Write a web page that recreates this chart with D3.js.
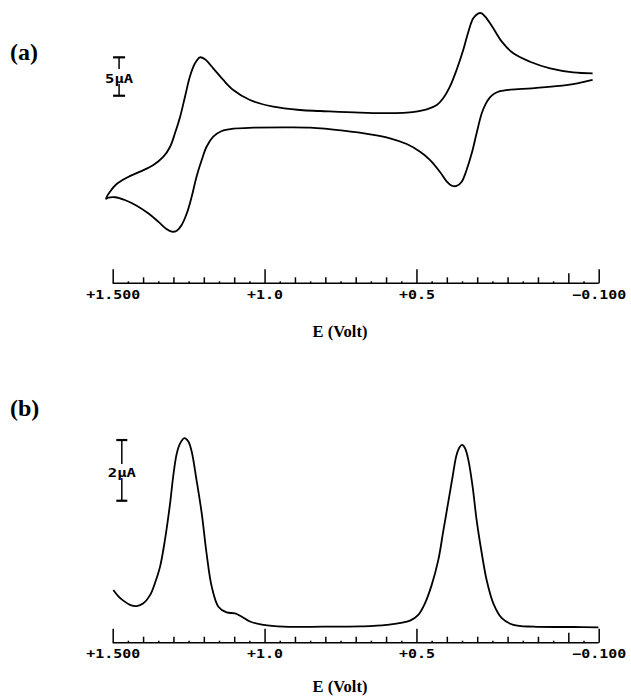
<!DOCTYPE html>
<html>
<head>
<meta charset="utf-8">
<script src="https://cdnjs.cloudflare.com/ajax/libs/d3/7.8.5/d3.min.js"></script>
<style>
  body { margin: 0; background: #fff; }
  svg { display: block; }
</style>
</head>
<body>
<svg width="631" height="696"></svg>
<script>
// (a) cyclic voltammogram: potential (V) and current (uA), in scan order
const cvE = [-0.080, -0.016, 0.060, 0.126, 0.181, 0.219, 0.247, 0.269, 0.285, 0.296, 0.313, 0.329, 0.346, 0.368, 0.390, 0.412, 0.433, 0.466, 0.532, 0.686, 0.817, 0.883, 0.971, 1.048, 1.103, 1.136, 1.169, 1.196, 1.213, 1.229, 1.246, 1.262, 1.278, 1.295, 1.311, 1.333, 1.366, 1.410, 1.454, 1.487, 1.509, 1.522,
  1.515, 1.492, 1.460, 1.421, 1.383, 1.350, 1.322, 1.306, 1.289, 1.273, 1.256, 1.240, 1.224, 1.207, 1.191, 1.169, 1.141, 1.103, 1.037, 0.916, 0.850, 0.741, 0.653, 0.587, 0.532, 0.488, 0.455, 0.423, 0.400, 0.384, 0.368, 0.351, 0.335, 0.318, 0.302, 0.285, 0.272, 0.258, 0.244, 0.225, 0.190, 0.120, 0.040, -0.030, -0.080];
const cvI = [6.08, 6.21, 6.73, 7.59, 8.68, 10.20, 11.94, 13.24, 13.89, 13.89, 13.24, 11.50, 9.11, 6.51, 4.34, 2.83, 1.95, 1.39, 0.95, 0.95, 1.17, 1.30, 1.73, 2.60, 3.91, 5.21, 6.73, 7.90, 8.16, 7.38, 5.64, 3.03, 0.43, -1.73, -3.48, -4.78, -5.86, -6.73, -7.51, -8.33, -9.34, -10.25,
  -10.12, -10.06, -10.42, -11.16, -12.15, -13.24, -14.23, -14.54, -14.41, -13.67, -12.15, -9.99, -7.38, -5.21, -3.48, -2.17, -1.43, -1.13, -1.00, -0.95, -1.00, -1.39, -1.86, -2.38, -3.13, -4.13, -5.21, -6.73, -8.03, -8.55, -8.59, -8.03, -6.51, -4.34, -1.73, 0.87, 2.10, 2.95, 3.42, 3.75, 3.95, 4.12, 4.40, 4.78, 5.21];

// (b) differential pulse voltammogram
const dpvE = [1.498, 1.482, 1.465, 1.443, 1.421, 1.399, 1.377, 1.361, 1.344, 1.328, 1.311, 1.301, 1.289, 1.278, 1.264, 1.251, 1.240, 1.224, 1.207, 1.191, 1.174, 1.152, 1.125, 1.097, 1.075, 1.048, 1.004, 0.938, 0.807, 0.686, 0.598, 0.521, 0.494, 0.472, 0.450, 0.428, 0.412, 0.395, 0.381, 0.368, 0.357, 0.349, 0.340, 0.329, 0.315, 0.302, 0.285, 0.269, 0.247, 0.219, 0.181, 0.115, -0.016, -0.099];
const dpvI = [1.22, 1.02, 0.87, 0.73, 0.69, 0.78, 1.05, 1.44, 1.99, 2.87, 4.08, 4.95, 5.72, 6.05, 6.22, 6.11, 5.78, 4.84, 3.75, 2.43, 1.33, 0.67, 0.48, 0.45, 0.34, 0.18, 0.07, 0.01, 0.01, 0.02, 0.07, 0.21, 0.40, 0.78, 1.38, 2.21, 3.14, 4.13, 4.95, 5.67, 5.94, 6.00, 5.89, 5.50, 4.62, 3.53, 2.43, 1.55, 0.78, 0.29, 0.07, 0.01, 0.00, -0.01];

// axis ticks and labels
const majorTicks = [1.5, 1.0, 0.5, -0.1];
const tickLabels = ["+1.500", "+1.0", "+0.5", "\u22120.100"];
const minorTicks = [1.4, 1.3, 1.2, 1.1, 0.9, 0.8, 0.7, 0.6, 0.4, 0.3, 0.2, 0.1];
const zeroTick = [0.0];
const halfTicks = [1.45, 1.35, 1.25, 1.15, 1.05, 0.95, 0.85, 0.75, 0.65, 0.55, 0.45, 0.35, 0.25, 0.15, 0.05, -0.05];

const svg = d3.select("svg");
svg.append("rect").attr("width", 631).attr("height", 696).attr("fill", "#fff");

const x = d3.scaleLinear().domain([1.5, -0.1]).range([112.7, 598.7]);
// 5 uA = 38.4 px, 2 uA = 60.7 px
const yA = d3.scaleLinear().domain([0, 5]).range([120, 120 - 38.4]);
const yB = d3.scaleLinear().domain([0, 2]).range([627, 627 - 60.7]);

const line = (yScale) => d3.line()
    .x(d => x(d[0]))
    .y(d => yScale(d[1]))
    .curve(d3.curveCatmullRom.alpha(0.5));

svg.append("path")
    .datum(cvE.map((e, i) => [e, cvI[i]]))
    .attr("d", line(yA))
    .attr("fill", "none")
    .attr("stroke", "#000")
    .attr("stroke-width", 1.8)
    .attr("stroke-linejoin", "round");

svg.append("path")
    .datum(dpvE.map((e, i) => [e, dpvI[i]]))
    .attr("d", line(yB))
    .attr("fill", "none")
    .attr("stroke", "#000")
    .attr("stroke-width", 1.8)
    .attr("stroke-linejoin", "round");

function drawAxis(yPos, titleY) {
    const g = svg.append("g").attr("transform", `translate(0,${yPos})`);

    g.append("line")
        .attr("x1", x(1.5)).attr("x2", x(-0.1))
        .attr("stroke", "#000").attr("stroke-width", 1.6);

    const tickSet = (vals, size) => {
        g.append("g")
            .call(d3.axisTop(x).tickValues(vals).tickSize(size).tickFormat(""))
            .call(s => s.select(".domain").remove())
            .selectAll("line").attr("stroke", "#000").attr("stroke-width", 1.5);
    };
    tickSet(halfTicks, 2);
    tickSet(minorTicks, 6);
    tickSet(zeroTick, 10);
    tickSet(majorTicks, 14);

    g.append("g")
        .call(d3.axisBottom(x).tickValues(majorTicks).tickSize(0)
            .tickFormat((d, i) => tickLabels[i]))
        .call(s => s.select(".domain").remove())
        .selectAll("text")
        .attr("y", 15.5)
        .attr("dy", null)
        .attr("fill", "#000")
        .attr("font-family", "DejaVu Sans Mono")
        .attr("font-weight", "bold")
        .attr("font-size", "12px")
        .attr("textLength", d => tickLabels[majorTicks.indexOf(d)].length * 9)
        .attr("lengthAdjust", "spacingAndGlyphs");

    svg.append("text")
        .attr("x", 340)
        .attr("y", titleY)
        .attr("text-anchor", "middle")
        .attr("font-family", "Liberation Serif")
        .attr("font-weight", "bold")
        .attr("font-size", "16.5px")
        .text("E (Volt)");
}

drawAxis(283.3, 337);
drawAxis(642.7, 692);

// current scale bars
function scaleBar(e, yScale, lo, hi, label, gapTop, gapBot, capW) {
    const bx = x(e);
    const y1 = yScale(hi), y2 = yScale(lo);
    const g = svg.append("g").attr("stroke", "#000");
    g.append("line").attr("x1", bx).attr("x2", bx).attr("y1", y1).attr("y2", gapTop).attr("stroke-width", 1.5);
    g.append("line").attr("x1", bx).attr("x2", bx).attr("y1", gapBot).attr("y2", y2).attr("stroke-width", 1.5);
    [y1, y2].forEach(yy => {
        g.append("line").attr("x1", bx - capW / 2).attr("x2", bx + capW / 2)
            .attr("y1", yy).attr("y2", yy).attr("stroke-width", 2.2);
    });
    svg.append("text")
        .attr("x", bx)
        .attr("y", gapBot - 1)
        .attr("text-anchor", "middle")
        .attr("font-family", "DejaVu Sans Mono")
        .attr("font-weight", "bold")
        .attr("font-size", "13px")
        .attr("textLength", 28)
        .attr("lengthAdjust", "spacingAndGlyphs")
        .text(label);
}
scaleBar(1.479, yA, 3.16, 8.16, "5\u00b5A", 69, 84, 12);
scaleBar(1.470, yB, 4.16, 6.16, "2\u00b5A", 464, 478, 11);

// panel letters
svg.append("text").attr("x", 10).attr("y", 60)
    .attr("font-family", "Liberation Serif").attr("font-weight", "bold")
    .attr("font-size", "24px").text("(a)");
svg.append("text").attr("x", 10).attr("y", 416)
    .attr("font-family", "Liberation Serif").attr("font-weight", "bold")
    .attr("font-size", "24px").text("(b)");
</script>
</body>
</html>
